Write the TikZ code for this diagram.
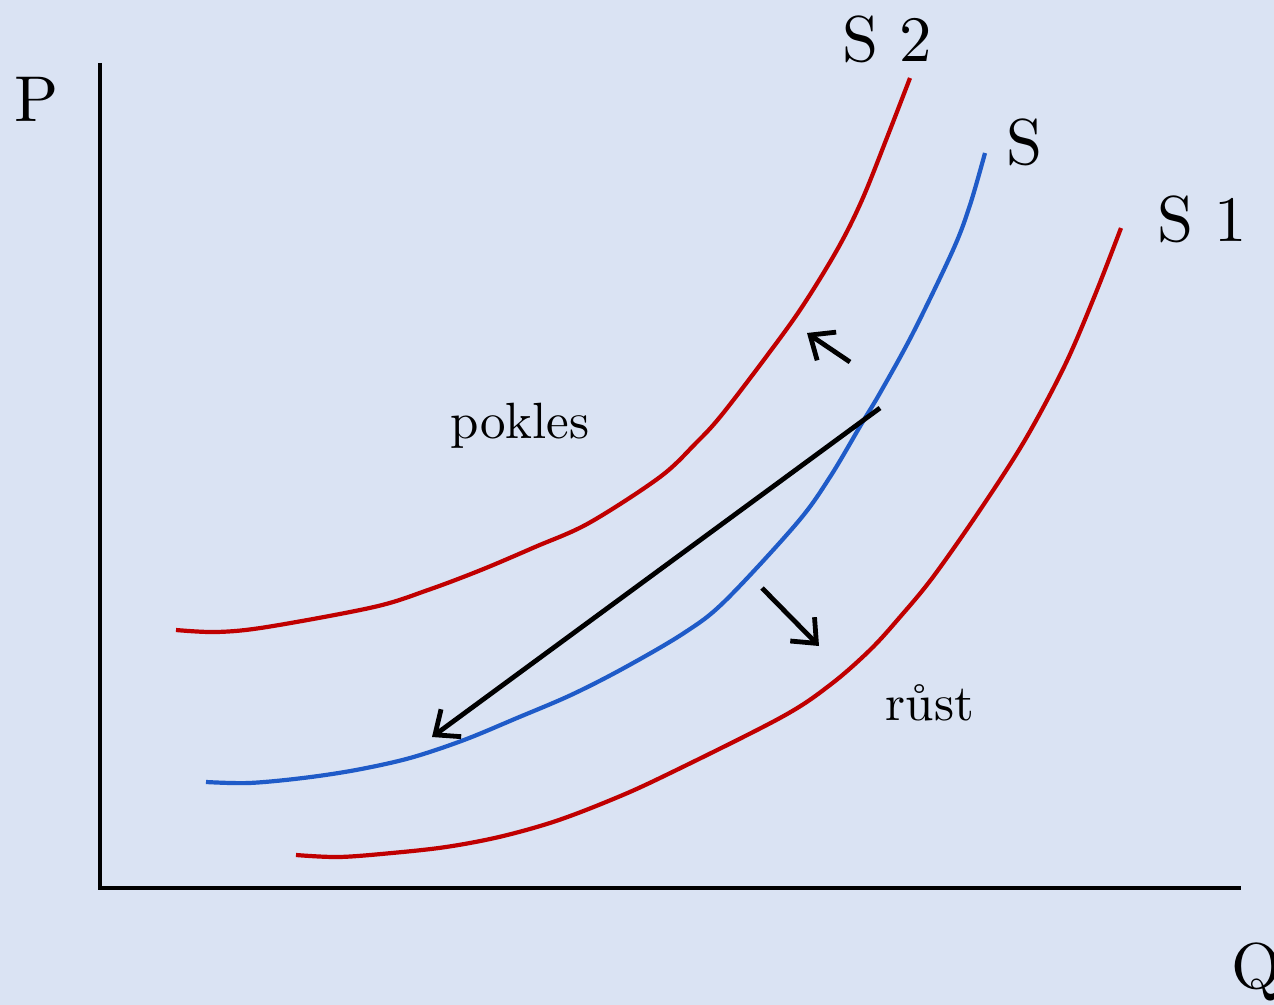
\documentclass[tikz,border=0pt]{standalone}
\usetikzlibrary{arrows.meta}
\definecolor{bgc}{HTML}{DAE3F3}
\definecolor{redc}{HTML}{C00000}
\definecolor{bluec}{HTML}{1F5BC8}
\begin{document}
\begin{tikzpicture}[x=0.5pt,y=-0.5pt,
  axis/.style={line width=2pt,black},
  curve/.style={line width=2.1pt},
  arr/.style={line width=2.4pt,black,-{Straight Barb[length=10pt,width=17pt,line width=2.4pt]}},
  big/.style={font=\normalsize,anchor=base,inner sep=0pt,scale=3.24,transform shape},
  mid/.style={font=\normalsize,anchor=base,inner sep=0pt,scale=2.55,transform shape}]
\fill[bgc] (0,0) rectangle (1274,1005);
\useasboundingbox (0,0) rectangle (1274,1005);
% axes
\coordinate (ytop) at (100,63);
\coordinate (origin) at (100,888);
\coordinate (xend) at (1241,888);
\draw[axis] (ytop) -- (origin) -- (xend);
% curves
\draw[curve,redc] plot[smooth,tension=0.55] coordinates {(176,630) (217,632) (267,627) (374,607) (428,590) (481,570) (535,547) (589,523) (660,477) (696,443) (720,417) (760,365) (800,310) (837,250) (862,200) (888,135) (910,78)};
\draw[curve,bluec] plot[smooth,tension=0.55] coordinates {(206,782) (249,783) (303,778) (356,770) (410,758) (464,740) (517,718) (571,695) (624,668) (684,633) (725,601) (797,523) (830,477) (862,423) (880,393) (913,333) (953,250) (970,205) (985,153)};
\draw[curve,redc] plot[smooth,tension=0.55] coordinates {(296,855) (339,857) (392,853) (446,847) (499,837) (553,822) (606,802) (660,778) (780,718) (830,685) (870,650) (900,617) (933,577) (980,510) (1025,440) (1065,365) (1095,295) (1121,228)};
% arrows
\coordinate (a1s) at (880,408);
\coordinate (a1e) at (432,737);
\coordinate (a2s) at (850,362);
\coordinate (a2e) at (807,333);
\coordinate (a3s) at (762,588);
\coordinate (a3e) at (819,646);
\draw[arr] (a1s) -- (a1e);
\draw[arr] (a2s) -- (a2e);
\draw[arr] (a3s) -- (a3e);
% labels
\node[big] (P) at (37,122) {P};
\node[big] (Q) at (1257,988) {Q};
\node[big] (S2) at (887,62) {S 2};
\node[big] (S) at (1025,165) {S};
\node[big] (S1) at (1202,242) {S 1};
\node[mid] (pokles) at (520,438) {pokles};
\node[mid] (rust) at (930,720) {růst};
\end{tikzpicture}
\end{document}
